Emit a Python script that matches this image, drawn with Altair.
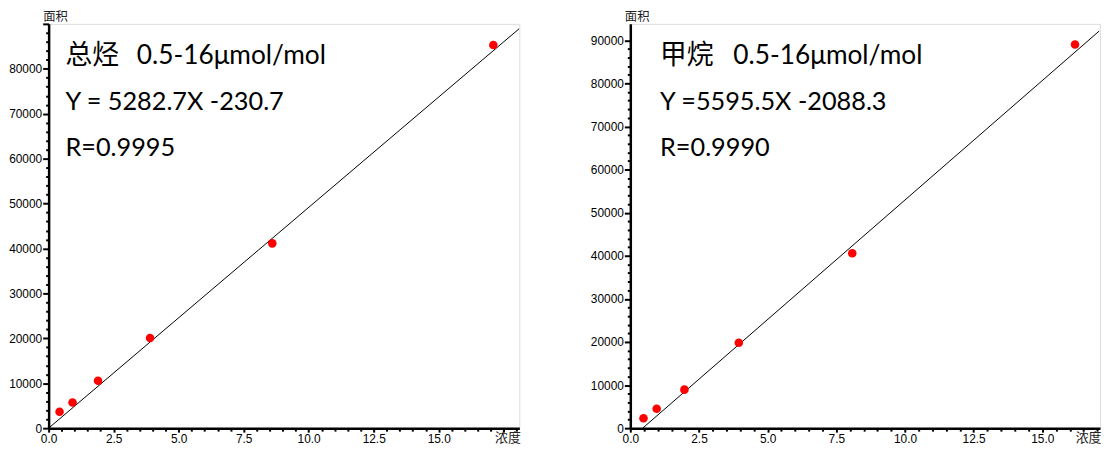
import altair as alt
import pandas as pd

# ---- data ----
conc_total = [0.42, 0.92, 1.9, 3.9, 8.6, 17.1]
area_total = [3670, 5720, 10560, 20090, 41140, 85300]
fit_x_total = [0.0, 18.1]
fit_y_total = [0, 88950]

conc_ch4 = [0.48, 0.96, 1.97, 3.95, 8.08, 16.19]
area_ch4 = [2290, 4520, 8940, 19800, 40600, 89000]
fit_x_ch4 = [0.45, 17.07]
fit_y_ch4 = [0, 92130]

name_total = "总烃"
name_ch4 = "甲烷"
range_text = "0.5-16μmol/mol"
text_total = ["Y = 5282.7X -230.7", "R=0.9995"]
text_ch4 = ["Y =5595.5X -2088.3", "R=0.9990"]

x_title = "浓度"
y_title = "面积"

x_ticks_total = [i * 0.5 for i in range(0, 37)]   # 0 .. 18.0
x_ticks_ch4 = [i * 0.5 for i in range(0, 35)]     # 0 .. 17.0
y_ticks = [i * 2000 for i in range(0, 46)]        # 0 .. 90000

LABEL_FONT = "Liberation Sans"
TEXT_ROWS_Y = [33, 79, 125]


def panel(xs, ys, fx, fy, name, texts, xdom, ydom, xticks, ymax_label, w, h, tx, rx):
    pts = pd.DataFrame({"x": xs, "y": ys})
    fit = pd.DataFrame({"x": fx, "y": fy})

    def xaxis():
        return alt.Axis(
            values=xticks,
            labelExpr="(datum.value % 2.5 === 0 && datum.value <= 15) ? format(datum.value, '.1f') : ''",
            tickSize={"condition": {"test": "datum.value % 2.5 === 0", "value": 4}, "value": 3},
            tickWidth=2,
            tickColor="black",
            domainColor="black",
            domainWidth=2.5,
            grid=False,
            labelOverlap=False,
            labelFlush=False,
            labelFont=LABEL_FONT,
            labelFontSize=12,
            labelColor="black",
            labelPadding=1,
            title=x_title,
            titleFont="Noto Sans CJK SC",
            titleFontWeight="normal",
            titleFontSize=13,
            titleColor="#222222",
            titleAnchor="end",
            titleAlign="right",
            titleX=w + 1,
            titleY=9,
            titleBaseline="middle",
        )

    def yaxis():
        return alt.Axis(
            values=y_ticks,
            labelExpr=f"(datum.value % 10000 === 0 && datum.value <= {ymax_label}) ? format(datum.value, 'd') : ''",
            tickSize={"condition": {"test": "datum.value % 10000 === 0", "value": 6}, "value": 3},
            tickWidth=2,
            tickColor="black",
            domainColor="black",
            domainWidth=2.5,
            grid=False,
            labelOverlap=False,
            labelFlush=False,
            labelFont=LABEL_FONT,
            labelFontSize=12,
            labelColor="black",
            labelPadding=1,
            title=y_title,
            titleFont="Noto Sans CJK SC",
            titleFontWeight="normal",
            titleFontSize=12.5,
            titleColor="#222222",
            titleAngle=0,
            titleAlign="left",
            titleBaseline="bottom",
            titleX=-6,
            titleY=0,
        )

    xs_ = alt.Scale(domain=xdom, nice=False, zero=False)
    ys_ = alt.Scale(domain=ydom, nice=False, zero=False)

    line = alt.Chart(fit).mark_line(color="black", strokeWidth=1, clip=True).encode(
        x=alt.X("x:Q", scale=xs_, axis=xaxis()),
        y=alt.Y("y:Q", scale=ys_, axis=yaxis()),
    )
    dots = alt.Chart(pts).mark_point(filled=True, color="#ff0000", opacity=1, size=75).encode(
        x=alt.X("x:Q", scale=xs_, axis=xaxis()),
        y=alt.Y("y:Q", scale=ys_, axis=yaxis()),
    )

    def txt(t, x, y, size, font):
        return alt.Chart(pd.DataFrame({"t": [t]})).mark_text(
            align="left", baseline="middle", font=font, fontSize=size, color="black"
        ).encode(x=alt.value(x), y=alt.value(y), text="t:N")

    layers = [
        line,
        dots,
        txt(name, tx, TEXT_ROWS_Y[0], 27, "Noto Sans CJK SC"),
        txt(range_text, rx, TEXT_ROWS_Y[0], 26.5, "Lato"),
        txt(texts[0], tx, TEXT_ROWS_Y[1], 25.5, "Lato"),
        txt(texts[1], tx, TEXT_ROWS_Y[2], 25.5, "Lato"),
    ]
    return alt.layer(*layers).properties(width=w, height=h)


left = panel(conc_total, area_total, fit_x_total, fit_y_total, name_total, text_total,
             [0, 18.1], [0, 90000], x_ticks_total, 80000, 475, 408, 17, 89)
right = panel(conc_ch4, area_ch4, fit_x_ch4, fit_y_ch4, name_ch4, text_ch4,
              [0, 17.1], [0, 93800], x_ticks_ch4, 90000, 474, 408, 30, 104)

chart = alt.hconcat(left, right, spacing=69).properties(padding=0).configure_view(
    stroke="#333333", strokeWidth=1
).configure(background="white")

chart.save("out.html", embed_options={"renderer": "svg", "actions": False})
